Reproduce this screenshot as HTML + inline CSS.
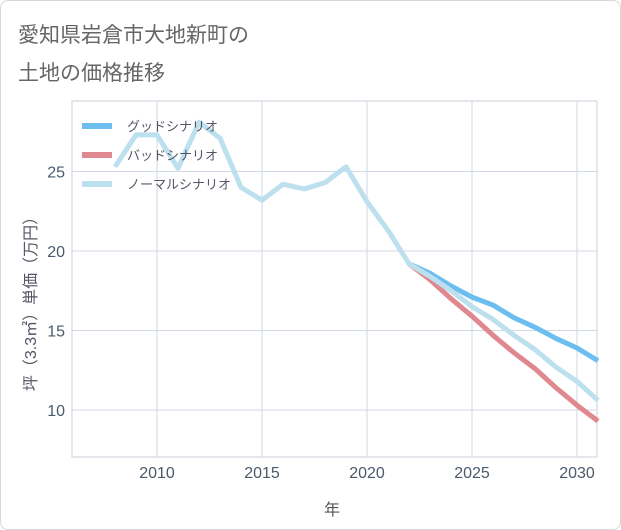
<!DOCTYPE html>
<html><head><meta charset="utf-8"><style>
body{margin:0;background:#fff;}
#card{position:absolute;left:0;top:0;width:619px;height:528px;border:1px solid #d8d8d8;border-radius:8px;background:#fff;}
svg{position:absolute;left:0;top:0;font-family:"Liberation Sans","Noto Sans CJK JP",sans-serif;}
</style></head><body>
<div id="card"></div>
<svg id="chart" width="621" height="530">
<text x="18" y="42" font-size="21" fill="#666">愛知県岩倉市大地新町の</text>
<text x="18" y="80" font-size="21" fill="#666">土地の価格推移</text>
<g id="grid"></g><g id="series"></g><g id="legend"></g>
<text x="332" y="515" font-size="16" fill="#555" text-anchor="middle">年</text>
<text transform="translate(36,300) rotate(-90)" font-size="16" fill="#556" text-anchor="middle">坪（3.3㎡）単価（万円）</text>
</svg>
<script>
const years=[2008,2009,2010,2011,2012,2013,2014,2015,2016,2017,2018,2019,2020,2021,2022];
const histValues=[25.3,27.3,27.3,25.2,28.1,27.1,24.0,23.2,24.2,23.9,24.3,25.3,23.1,21.3,19.2];
const futureYears=[2022,2023,2024,2025,2026,2027,2028,2029,2030,2031];
const goodValues=[19.2,18.6,17.8,17.1,16.6,15.8,15.2,14.5,13.9,13.1];
const badValues=[19.2,18.2,17.0,15.9,14.7,13.6,12.6,11.4,10.3,9.3];
const normalValues=[19.2,18.4,17.5,16.5,15.7,14.7,13.8,12.7,11.8,10.6];
const xTicks=[2010,2015,2020,2025,2030];
const yTicks=[10,15,20,25];
const L=72,R=597,T=101,B=457;
const x=v=>157+(v-2010)*21;
const y=v=>251-(v-20)*15.9;
const NS="http://www.w3.org/2000/svg";
function mk(tag,attrs,parent){const e=document.createElementNS(NS,tag);for(const k in attrs)e.setAttribute(k,attrs[k]);parent.appendChild(e);return e;}
const grid=document.getElementById('grid');
const frame=mk('rect',{x:L,y:T,width:R-L,height:B-T,fill:'none',stroke:'#c8d0d8'},grid);


xTicks.forEach(t=>{
 const l=mk('line',{x1:x(t),x2:x(t),y1:T,y2:B,stroke:'#d0dae4'},grid);
 
 
 const tx=mk('text',{x:x(t),y:478,'font-size':16,fill:'#4a5a6a','text-anchor':'middle'},grid);
 tx.textContent=t;
 
 
});
yTicks.forEach(t=>{
 const l=mk('line',{x1:L,x2:R,y1:y(t),y2:y(t),stroke:'#d0dae4'},grid);
 
 
 const tx=mk('text',{x:65,y:y(t)+6,'font-size':16,fill:'#4a5a6a','text-anchor':'end'},grid);
 tx.textContent=t;
 
 
});
const ser=document.getElementById('series');
function line(xs,vs,color,name){
 const p=mk('polyline',{points:xs.map((t,i)=>x(t)+','+y(vs[i])).join(' '),fill:'none',stroke:color,'stroke-width':5,'stroke-linejoin':'round'},ser);
 
 
}
line(futureYears,goodValues,'#6cbdf0','good-scenario-line');
line(futureYears,badValues,'#e0888f','bad-scenario-line');
line(years.concat(futureYears.slice(1)),histValues.concat(normalValues.slice(1)),'#bde0ef','normal-scenario-line');
const lg=document.getElementById('legend');
[['グッドシナリオ','#6cbdf0'],['バッドシナリオ','#e0888f'],['ノーマルシナリオ','#bde0ef']].forEach((d,i)=>{
 const yy=126+i*29;
 const g=mk('g',{},lg);
 
 
 mk('line',{x1:82,x2:112,y1:yy,y2:yy,stroke:d[1],'stroke-width':6},g);
 const t=mk('text',{x:127,y:yy+5,'font-size':13,fill:'#556'},g);
 t.textContent=d[0];
});
</script>
</body></html>
